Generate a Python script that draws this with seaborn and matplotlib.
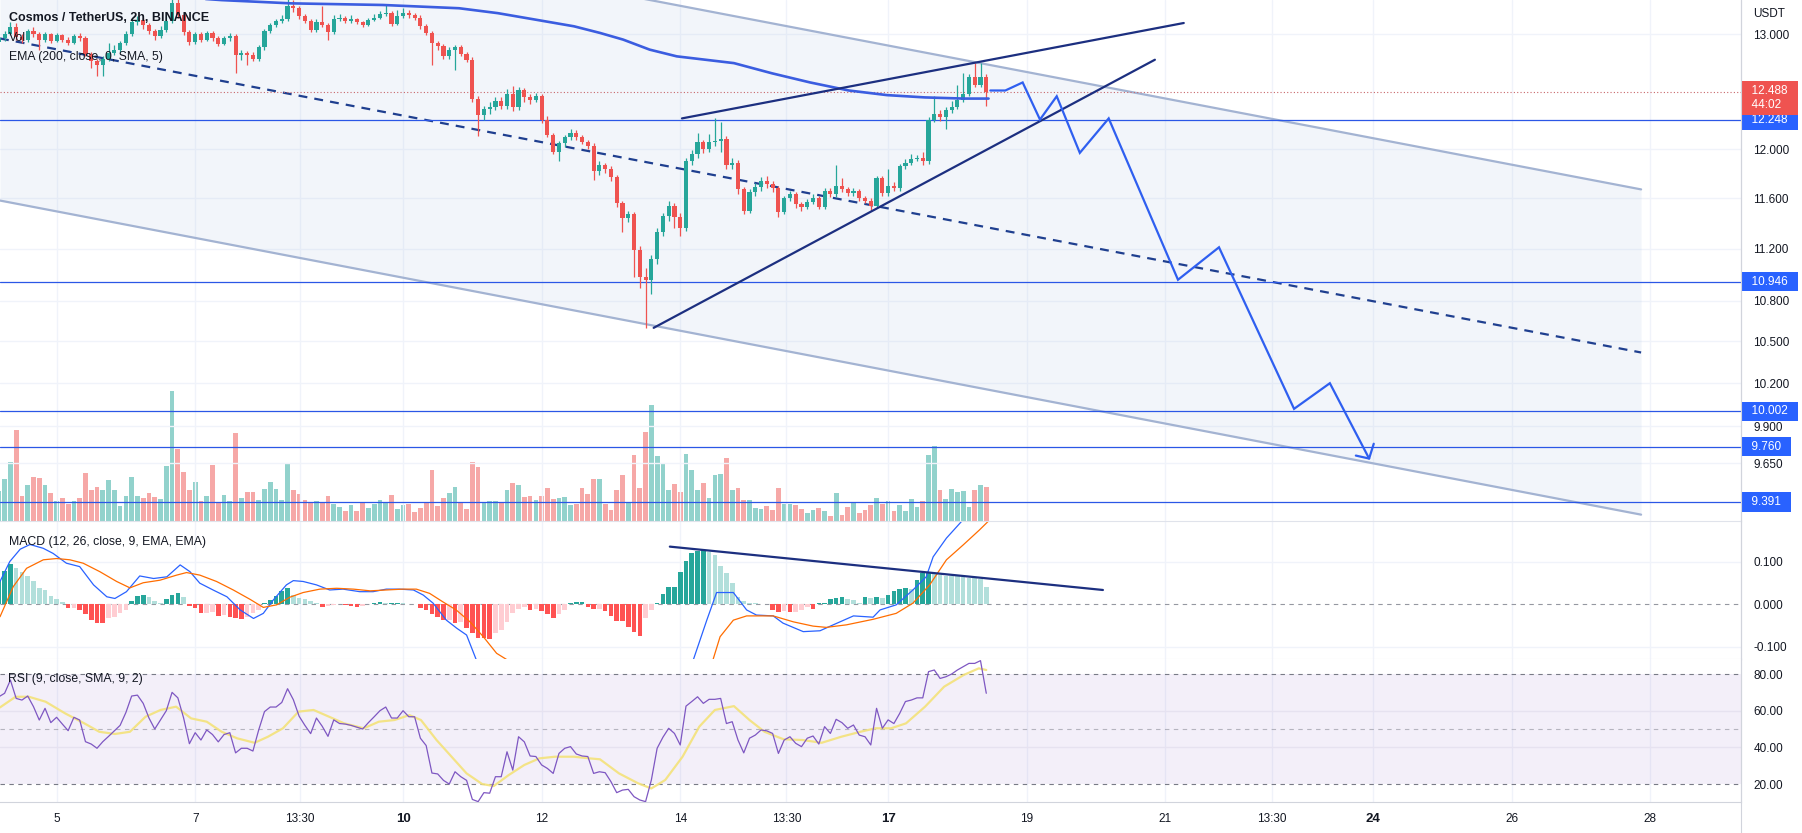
import numpy as np
import matplotlib
matplotlib.use("Agg")
import matplotlib.pyplot as plt
from matplotlib.ticker import NullLocator, NullFormatter
import seaborn as sns

sns.set_style("white")
plt.rcParams['font.family'] = ['Liberation Sans', 'DejaVu Sans']

# ---------------- data (2h bars, index 0 = 4th 04:00) ----------------
first_open = 12.93
closes = [12.96, 13.00, 13.06, 12.97, 12.95, 13.03, 13.00, 12.95, 13.00, 12.94,
          12.99, 12.95, 12.92, 12.98, 12.96, 12.82, 12.76, 12.72, 12.78, 12.83,
          12.86, 12.92, 13.00, 13.11, 13.13, 13.08, 13.03, 12.98, 13.04, 13.12,
          13.28, 13.17, 13.02, 12.93, 13.00, 12.95, 13.01, 12.96, 12.91, 12.96,
          12.98, 12.81, 12.83, 12.81, 12.78, 12.88, 13.03, 13.08, 13.12, 13.14,
          13.26, 13.24, 13.16, 13.12, 13.04, 13.11, 13.08, 13.02, 13.14, 13.15,
          13.12, 13.14, 13.11, 13.08, 13.13, 13.15, 13.18, 13.19, 13.09, 13.16,
          13.19, 13.17, 13.15, 13.07, 13.01, 12.92, 12.89, 12.80, 12.86, 12.88,
          12.82, 12.77, 12.43, 12.29, 12.34, 12.36, 12.41, 12.37, 12.47, 12.36,
          12.50, 12.44, 12.42, 12.45, 12.25, 12.12, 11.98, 12.05, 12.10, 12.14,
          12.10, 12.06, 12.03, 11.82, 11.87, 11.84, 11.77, 11.56, 11.44, 11.47,
          11.19, 10.98, 10.96, 11.12, 11.33, 11.46, 11.54, 11.45, 11.36, 11.90,
          11.96, 12.06, 12.00, 12.06, 12.07, 12.09, 11.87, 11.89, 11.67, 11.50,
          11.65, 11.69, 11.74, 11.71, 11.68, 11.49, 11.60, 11.63, 11.55, 11.53,
          11.57, 11.60, 11.53, 11.66, 11.63, 11.70, 11.67, 11.64, 11.66, 11.60,
          11.58, 11.54, 11.76, 11.64, 11.70, 11.68, 11.86, 11.89, 11.92, 11.93,
          11.90, 12.25, 12.30, 12.27, 12.33, 12.36, 12.42, 12.47, 12.62, 12.55,
          12.62, 12.488]
highs = [12.98, 13.03, 13.11, 13.10, 13.00, 13.05, 13.06, 13.02, 13.02, 13.01,
         13.01, 13.00, 12.97, 13.00, 13.01, 12.98, 12.84, 12.78, 12.80, 12.92,
         12.90, 12.94, 13.03, 13.14, 13.16, 13.15, 13.10, 13.05, 13.07, 13.16,
         13.40, 13.32, 13.19, 13.04, 13.02, 13.02, 13.03, 13.03, 12.98, 12.98,
         13.01, 13.00, 12.86, 12.85, 12.84, 12.90, 13.05, 13.10, 13.14, 13.17,
         13.33, 13.31, 13.26, 13.18, 13.14, 13.14, 13.26, 13.10, 13.17, 13.18,
         13.16, 13.17, 13.15, 13.12, 13.15, 13.18, 13.21, 13.27, 13.21, 13.22,
         13.24, 13.22, 13.19, 13.17, 13.09, 13.03, 12.94, 12.91, 12.88, 12.90,
         12.90, 12.84, 12.79, 12.45, 12.37, 12.40, 12.44, 12.44, 12.51, 12.54,
         12.53, 12.52, 12.47, 12.48, 12.47, 12.28, 12.14, 12.07, 12.12, 12.17,
         12.16, 12.12, 12.08, 12.05, 11.90, 11.89, 11.86, 11.79, 11.58, 11.50,
         11.49, 11.22, 11.05, 11.15, 11.36, 11.48, 11.58, 11.56, 11.48, 11.93,
         11.99, 12.14, 12.08, 12.13, 12.26, 12.23, 12.11, 11.93, 11.91, 11.69,
         11.67, 11.72, 11.77, 11.78, 11.74, 11.70, 11.62, 11.66, 11.65, 11.57,
         11.59, 11.63, 11.62, 11.68, 11.68, 11.87, 11.76, 11.69, 11.68, 11.67,
         11.62, 11.60, 11.78, 11.78, 11.84, 11.73, 11.88, 11.92, 11.96, 11.95,
         11.98, 12.27, 12.45, 12.33, 12.36, 12.41, 12.55, 12.65, 12.64, 12.74,
         12.74, 12.64]
lows = [12.90, 12.94, 12.99, 12.95, 12.92, 12.93, 12.97, 12.86, 12.93, 12.92,
        12.93, 12.93, 12.90, 12.91, 12.94, 12.80, 12.70, 12.63, 12.63, 12.76,
        12.81, 12.84, 12.90, 12.98, 13.08, 13.05, 13.00, 12.95, 12.96, 13.02,
        13.10, 13.15, 12.99, 12.90, 12.91, 12.93, 12.94, 12.94, 12.89, 12.90,
        12.94, 12.65, 12.77, 12.72, 12.76, 12.76, 12.86, 13.01, 13.06, 13.10,
        13.12, 13.20, 13.14, 13.10, 13.02, 13.02, 13.06, 12.95, 13.00, 13.12,
        13.10, 13.10, 13.09, 13.06, 13.07, 13.12, 13.14, 13.16, 13.07, 13.08,
        13.15, 13.15, 13.13, 13.05, 12.99, 12.72, 12.86, 12.78, 12.78, 12.68,
        12.80, 12.75, 12.40, 12.11, 12.25, 12.30, 12.33, 12.34, 12.34, 12.32,
        12.33, 12.40, 12.38, 12.40, 12.22, 12.10, 11.96, 11.90, 12.02, 12.08,
        12.08, 12.04, 12.00, 11.75, 11.79, 11.80, 11.74, 11.53, 11.33, 11.41,
        10.98, 10.90, 10.60, 10.85, 11.08, 11.30, 11.42, 11.36, 11.30, 11.34,
        11.87, 11.93, 11.97, 11.98, 12.03, 11.98, 11.84, 11.84, 11.63, 11.47,
        11.48, 11.62, 11.66, 11.68, 11.65, 11.45, 11.47, 11.58, 11.52, 11.50,
        11.51, 11.55, 11.51, 11.51, 11.61, 11.61, 11.65, 11.62, 11.62, 11.58,
        11.56, 11.50, 11.52, 11.62, 11.62, 11.66, 11.66, 11.84, 11.87, 11.90,
        11.87, 11.88, 12.23, 12.24, 12.17, 12.31, 12.34, 12.40, 12.45, 12.53,
        12.53, 12.37]
volumes = [30, 42, 59, 91, 25, 36, 44, 43, 36, 28, 20, 23, 17, 20, 23, 48, 31, 34, 31, 41,
           31, 15, 25, 44, 25, 23, 28, 24, 22, 55, 130, 72, 49, 31, 39, 20, 25, 56, 19, 26,
           20, 88, 23, 29, 29, 21, 32, 39, 32, 21, 57, 31, 27, 21, 18, 20, 19, 25, 17, 14,
           10, 16, 10, 18, 13, 17, 21, 19, 26, 12, 16, 17, 9, 13, 19, 51, 15, 23, 28, 34,
           18, 12, 59, 54, 19, 20, 20, 18, 31, 38, 36, 24, 25, 21, 25, 33, 22, 23, 24, 16,
           17, 33, 27, 42, 42, 17, 11, 31, 46, 19, 66, 33, 89, 116, 65, 58, 31, 37, 29, 67,
           51, 31, 38, 23, 46, 47, 63, 31, 33, 21, 21, 13, 12, 15, 11, 33, 17, 17, 16, 12,
           8, 11, 13, 10, 5, 28, 6, 14, 19, 8, 11, 16, 23, 17, 20, 10, 16, 10, 22, 14,
           20, 66, 75, 31, 22, 32, 29, 30, 14, 31, 36, 34]
macd_hist = [0.057, 0.078, 0.093, 0.085, 0.075, 0.067, 0.053, 0.038, 0.032, 0.020,
             0.012, 0.004, -0.010, -0.009, -0.014, -0.024, -0.038, -0.044, -0.045, -0.034,
             -0.030, -0.022, -0.013, 0.008, 0.019, 0.021, 0.016, 0.006, 0.003, 0.011,
             0.021, 0.027, 0.016, -0.005, -0.010, -0.022, -0.020, -0.018, -0.028, -0.027,
             -0.030, -0.034, -0.036, -0.031, -0.022, -0.013, 0.003, 0.009, 0.019, 0.031,
             0.037, 0.021, 0.013, 0.011, 0.008, 0.002, -0.006, -0.005, -0.002, -0.001,
             -0.003, -0.005, -0.006, -0.004, -0.001, 0.003, 0.004, 0.002, 0.002, 0.003,
             0.002, 0.001, 0.000, -0.009, -0.013, -0.024, -0.030, -0.038, -0.037, -0.045,
             -0.042, -0.057, -0.069, -0.079, -0.081, -0.082, -0.069, -0.060, -0.042, -0.022,
             -0.011, -0.007, -0.013, -0.012, -0.016, -0.024, -0.032, -0.024, -0.013, 0.003,
             0.004, 0.005, -0.008, -0.012, -0.012, -0.016, -0.028, -0.040, -0.041, -0.053,
             -0.067, -0.075, -0.034, -0.014, 0.002, 0.024, 0.039, 0.040, 0.075, 0.102,
             0.121, 0.125, 0.126, 0.123, 0.115, 0.090, 0.074, 0.049, 0.016, 0.008,
             0.003, 0.002, 0.001, 0.000, -0.014, -0.018, -0.016, -0.018, -0.018, -0.014,
             -0.008, -0.012, 0.002, 0.002, 0.011, 0.013, 0.016, 0.011, 0.010, 0.003,
             0.016, 0.013, 0.016, 0.013, 0.021, 0.031, 0.035, 0.037, 0.036, 0.056,
             0.072, 0.074, 0.071, 0.068, 0.067, 0.066, 0.065, 0.063, 0.062, 0.061,
             0.058, 0.040]
macd_x = [0.2, 1.9, 3.7, 5.4, 7.7, 9.4, 11.7, 14.0, 16.4, 18.7, 20.1, 22.1, 24.4, 26.8,
          29.1, 31.4, 33.1, 34.8, 37.1, 39.5, 41.8, 44.1, 45.8, 47.5, 49.8, 51.0, 52.7,
          55.0, 57.3, 59.6, 62.5, 64.8, 67.1, 69.4, 71.8, 73.5, 75.2, 77.5, 79.3, 81.0,
          82.7, 86, 95, 105, 112, 117, 120.3, 122.6, 124.3, 127.2, 129.5, 131.2, 134.1,
          135.8, 139.3, 142.2, 144.5, 148.0, 151.4, 152.6, 155.4, 158.3, 160.6, 161.8,
          164.1, 166.7, 171]
macd_line = [0.053, 0.100, 0.129, 0.140, 0.131, 0.119, 0.096, 0.088, 0.045, 0.017, 0.013,
             0.029, 0.066, 0.060, 0.064, 0.092, 0.076, 0.049, 0.033, 0.017, -0.014, -0.034,
             -0.022, 0.009, 0.045, 0.055, 0.053, 0.045, 0.033, 0.035, 0.029, 0.029, 0.035,
             0.035, 0.033, 0.021, 0.002, -0.038, -0.057, -0.073, -0.132, -0.21, -0.26,
             -0.29, -0.34, -0.24, -0.13, -0.038, 0.027, 0.027, -0.014, -0.026, -0.028,
             -0.045, -0.065, -0.063, -0.049, -0.028, -0.031, -0.014, -0.002, 0.033, 0.064,
             0.111, 0.155, 0.194, 0.24]
signal_x = [0.2, 2.5, 4.8, 7.7, 10.0, 12.3, 14.6, 17.5, 20.4, 22.7, 25.0, 27.9, 30.8, 32.5,
            34.8, 37.7, 40.6, 43.5, 45.8, 48.1, 50.4, 52.7, 55.6, 58.5, 61.4, 64.3, 67.1,
            70.0, 72.3, 74.6, 76.9, 79.2, 81.6, 83.9, 86.2, 95, 105, 115, 121, 123.7,
            124.9, 127.2, 129.5, 134.1, 137.6, 141.0, 143.3, 146.8, 151.4, 155.4, 158.3,
            161.2, 164.1, 167.0, 169.8, 171.3]
signal_line = [-0.030, 0.041, 0.084, 0.104, 0.107, 0.104, 0.096, 0.076, 0.053, 0.038,
               0.050, 0.056, 0.068, 0.074, 0.068, 0.053, 0.033, 0.011, -0.008, -0.002,
               0.016, 0.027, 0.035, 0.037, 0.035, 0.031, 0.033, 0.035, 0.035, 0.025,
               0.005, -0.014, -0.042, -0.077, -0.116, -0.19, -0.24, -0.26, -0.2, -0.13,
               -0.077, -0.038, -0.028, -0.028, -0.042, -0.052, -0.055, -0.049, -0.036,
               -0.022, 0.002, 0.045, 0.104, 0.139, 0.174, 0.194]
rsi = [67.6, 69.5, 76.7, 66.7, 65.8, 68.0, 62.2, 54.9, 61.3, 53.5,
       56.4, 52.7, 49.1, 56.4, 54.9, 43.1, 41.8, 39.5, 43.1, 46.0,
       49.0, 52.0, 59.0, 68.0, 68.5, 64.0, 56.0, 50.0, 55.0, 60.0,
       70.0, 67.0, 56.0, 42.0, 48.0, 44.0, 49.5, 47.0, 43.0, 47.0,
       48.0, 37.0, 39.5, 39.5, 38.0, 49.5, 59.5, 62.0, 62.0, 64.5,
       72.0, 66.0, 57.0, 52.0, 47.5, 56.0, 51.5, 46.0, 55.0, 53.0,
       52.7, 52.0, 51.0, 50.0, 53.5, 56.7, 60.0, 62.0, 56.0, 56.0,
       60.0, 56.7, 56.7, 45.0, 41.0, 26.0, 25.5, 22.0, 20.0, 26.7,
       24.0, 22.0, 11.6, 10.4, 15.3, 15.0, 24.0, 24.0, 37.6, 27.6,
       45.8, 43.0, 35.3, 35.0, 30.4, 28.5, 25.8, 36.7, 39.5, 40.4,
       36.4, 35.3, 35.0, 25.8, 26.7, 26.2, 21.3, 15.3, 16.7, 17.1,
       13.1, 11.3, 10.4, 22.2, 39.5, 45.5, 50.4, 47.6, 41.3, 62.5,
       65.0, 67.6, 64.0, 66.2, 66.2, 66.7, 53.0, 54.0, 44.0, 37.0,
       45.0, 46.7, 49.5, 49.0, 47.6, 36.7, 44.0, 45.8, 42.2, 40.4,
       45.0, 46.2, 41.8, 51.3, 47.6, 55.3, 53.5, 50.4, 52.2, 46.7,
       45.8, 41.3, 61.3, 50.4, 55.0, 53.0, 58.5, 65.0, 65.8, 67.0,
       67.0, 81.3, 82.2, 77.6, 78.5, 80.0, 82.2, 84.0, 85.8, 85.8,
       87.3, 69.5]
rsi_ma_x = [0.2, 2.9, 5.2, 8.1, 11.5, 14.8, 17.4, 20.1, 22.7, 25.4, 28.0, 30.7, 33.3, 36.0,
            38.6, 41.3, 44.3, 46.6, 49.2, 51.9, 54.5, 57.2, 59.8, 63.2, 65.8, 68.5, 71.1,
            73.1, 75.8, 78.4, 81.0, 83.7, 85.7, 88.3, 91.0, 93.6, 96.3, 99.6, 102.3, 104.1,
            107.4, 110.7, 113.0, 115.4, 118.4, 121.3, 124.0, 127.3, 130.0, 132.6, 135.9,
            139.2, 142.5, 145.9, 149.2, 151.8, 154.5, 157.1, 160.4, 163.7, 167.1, 169.7, 171.0]
rsi_ma = [61.8, 67.6, 67.6, 64.9, 58.5, 53.1, 48.5, 47.3, 48.5, 56.7, 60.4, 62.2, 55.8, 54.0,
          48.5, 44.9, 42.5, 45.8, 50.4, 59.5, 60.4, 56.7, 53.1, 50.4, 54.0, 54.9, 57.6,
          54.9, 44.0, 34.9, 25.8, 20.0, 18.9, 24.9, 30.4, 34.0, 34.9, 34.9, 34.0, 33.5,
          25.8, 20.4, 17.6, 22.2, 34.9, 51.3, 60.4, 62.5, 54.9, 48.5, 44.4, 44.0, 42.5,
          45.8, 48.5, 50.4, 50.4, 53.1, 62.2, 73.1, 79.5, 83.1, 82.2]
ema_x = [25, 38.6, 50.6, 66.5, 79.7, 86.4, 93.0, 99.6, 104.1, 108.1, 112.7, 117.4, 120.7,
         127.3, 133.9, 140.5, 147.2, 153.8, 160.4, 167.1, 171.4]
ema_y = [13.36, 13.31, 13.28, 13.265, 13.235, 13.19, 13.13, 13.07, 13.01, 12.95, 12.86,
         12.80, 12.78, 12.74, 12.65, 12.57, 12.50, 12.46, 12.44, 12.43, 12.43]

levels = [12.248, 10.946, 10.002, 9.760, 9.391]
last_price = 12.488
countdown = "44:02"

channel_x = [0.2, 284.4]
channel_top = [14.51, 11.67]
channel_mid = [12.96, 10.42]
channel_bottom = [11.58, 9.31]
wedge_up_x, wedge_up_y = [118.3, 205.2], [12.26, 13.10]
wedge_lo_x, wedge_lo_y = [113.4, 200.2], [10.60, 12.77]
proj_x = [171.7, 174.3, 177.3, 180.3, 183.2, 187.2, 192.2, 204.2, 211.3, 224.3, 230.5, 237.3]
proj_y = [12.50, 12.50, 12.57, 12.25, 12.45, 11.97, 12.26, 10.96, 11.21, 10.02, 10.20, 9.68]
arrow_x, arrow_y = [235.0, 237.3, 238.1], [9.70, 9.68, 9.78]
div_x, div_y = [116.2, 191.2], [0.135, 0.033]

tick_pos = [10, 34, 52.2, 70, 94, 118, 136.4, 154, 178, 202, 220.5, 238, 262, 286]
tick_labels = ["5", "7", "13:30", "10", "12", "14", "13:30", "17", "19", "21",
               "13:30", "24", "26", "28"]
bold_labels = {"10", "17", "24"}
price_ticks = [13.0, 12.0, 11.6, 11.2, 10.8, 10.5, 10.2, 9.9, 9.65]
macd_ticks = [0.1, 0.0, -0.1]
rsi_ticks = [80, 60, 40, 20]

# ---------------- colours ----------------
GREEN, RED = '#26a69a', '#ef5350'
TXT = '#131722'
GRID = '#f0f3fa'
LVL = '#2b57e6'

# ---------------- figure ----------------
W, H, PR = 1802, 833, 1741
fig = plt.figure(figsize=(W / 100, H / 100), dpi=100)
fig.patch.set_facecolor('white')


def rect(y0, y1):
    return [0, 1 - y1 / H, PR / W, (y1 - y0) / H]


ax_vol = fig.add_axes(rect(0, 521), zorder=0)
ax = fig.add_axes(rect(0, 521), zorder=1)
ax.set_facecolor('none')
ax_macd = fig.add_axes(rect(521, 659))
ax_rsi = fig.add_axes(rect(659, 802))

xlim = (0.2, 301.7)
idx = np.arange(len(closes))
c = np.array(closes)
o = np.r_[first_open, c[:-1]]
up = c >= o
candle_col = np.where(up, GREEN, RED)

# volume (underneath)
ax_vol.bar(idx, volumes, width=0.82, color=candle_col, alpha=0.5, lw=0)
ax_vol.set_xlim(*xlim)
ax_vol.set_ylim(0, max(volumes) * 4.0)
ax_vol.axis('off')

# main price panel
ax.set_yscale('log')
for t in tick_pos:
    ax.axvline(t, color=GRID, lw=1, zorder=0)
for p in price_ticks:
    ax.axhline(p, color=GRID, lw=1, zorder=0)
ax.fill_between(channel_x, channel_bottom, channel_top, color='#9db8de', alpha=0.13, lw=0, zorder=0.5)
ax.plot(channel_x, channel_top, color='#a3b3d2', lw=1.6, zorder=2)
ax.plot(channel_x, channel_bottom, color='#a3b3d2', lw=1.6, zorder=2)
ax.plot(channel_x, channel_mid, color='#1f3f8f', lw=1.6, ls=(0, (4, 3.2)), zorder=2)
for lv in levels:
    ax.axhline(lv, color=LVL, lw=0.9, zorder=2)
ax.axhline(last_price, color='#c8666a', lw=0.8, ls=(0, (1, 2)), zorder=2)

ax.vlines(idx, lows, highs, colors=candle_col, lw=0.9, zorder=3)
ax.bar(idx, np.maximum(np.abs(c - o), 0.004), bottom=np.minimum(o, c), width=0.72,
       color=candle_col, lw=0, zorder=4)
sns.lineplot(x=ema_x, y=ema_y, ax=ax, color='#3b5de0', lw=1.9, zorder=5)
ax.plot(wedge_up_x, wedge_up_y, color='#1c2f80', lw=1.6, zorder=6)
ax.plot(wedge_lo_x, wedge_lo_y, color='#1c2f80', lw=1.6, zorder=6)
ax.plot(proj_x, proj_y, color='#2f5ff0', lw=1.6, zorder=6, solid_joinstyle='miter')
ax.plot(arrow_x, arrow_y, color='#2f5ff0', lw=1.6, zorder=6)

ax.set_xlim(*xlim)
ax.set_ylim(9.269, 13.311)
ax.yaxis.set_minor_locator(NullLocator())
ax.yaxis.set_minor_formatter(NullFormatter())
ax.set_yticks(price_ticks)
ax.set_yticklabels([f"{p:.3f}" for p in price_ticks])


def style_panel(a, bottom_color='#e0e3eb'):
    for s in ['top', 'left']:
        a.spines[s].set_visible(False)
    a.spines['right'].set_color('#d1d4dc')
    a.spines['bottom'].set_color(bottom_color)
    a.yaxis.tick_right()
    a.tick_params(axis='y', length=0, pad=9, labelsize=8.5, labelcolor=TXT,
                  left=False, labelleft=False, right=True, labelright=True)
    a.tick_params(axis='x', length=0)
    a.set_xlabel('')
    a.set_ylabel('')


style_panel(ax)
ax.set_xticks(tick_pos)
ax.set_xticklabels([])

# MACD panel
for t in tick_pos:
    ax_macd.axvline(t, color=GRID, lw=1, zorder=0)
for v in [0.1, -0.1]:
    ax_macd.axhline(v, color=GRID, lw=1, zorder=0)
ax_macd.axhline(0, color='#9598a1', lw=0.8, ls=(0, (4, 4)), zorder=1)
hist = np.array(macd_hist)
prev = np.r_[hist[0], hist[:-1]]
hcol = np.where(hist >= 0, np.where(hist >= prev, '#26a69a', '#b2dfdb'),
                np.where(hist < prev, '#ff5252', '#ffcdd2'))
ax_macd.bar(idx, hist, width=0.8, color=hcol, lw=0, zorder=2)
sns.lineplot(x=macd_x, y=macd_line, ax=ax_macd, color='#2962ff', lw=0.9, zorder=3)
sns.lineplot(x=signal_x, y=signal_line, ax=ax_macd, color='#ff6d00', lw=0.9, zorder=3)
ax_macd.plot(div_x, div_y, color='#1c2f80', lw=1.6, zorder=4)
ax_macd.set_xlim(*xlim)
ax_macd.set_ylim(-0.1294, 0.1953)
ax_macd.set_yticks(macd_ticks)
ax_macd.set_yticklabels(["0.100", "0.000", "-0.100"])
style_panel(ax_macd)
ax_macd.set_xticks(tick_pos)
ax_macd.set_xticklabels([])

# RSI panel
for t in tick_pos:
    ax_rsi.axvline(t, color=GRID, lw=1, zorder=0)
for v in [60, 40]:
    ax_rsi.axhline(v, color='#e6e2f0', lw=1, zorder=0.5)
ax_rsi.axhspan(20, 80, color='#7e57c2', alpha=0.09, lw=0, zorder=0.2)
for v, al in [(80, 1.0), (50, 0.5), (20, 1.0)]:
    ax_rsi.axhline(v, color='#787b86', lw=0.8, ls=(0, (4, 4)), alpha=al, zorder=1)
sns.lineplot(x=rsi_ma_x, y=rsi_ma, ax=ax_rsi, color='#f3e27a', lw=1.6, alpha=0.9, zorder=2)
sns.lineplot(x=idx, y=rsi, ax=ax_rsi, color='#7e57c2', lw=0.9, zorder=3)
ax_rsi.set_xlim(*xlim)
ax_rsi.set_ylim(10.2, 88.2)
ax_rsi.set_yticks(rsi_ticks)
ax_rsi.set_yticklabels([f"{v:.2f}" for v in rsi_ticks])
style_panel(ax_rsi, bottom_color='#d1d4dc')
ax_rsi.set_xticks(tick_pos)
ax_rsi.set_xticklabels(tick_labels)
ax_rsi.tick_params(axis='x', pad=8, labelsize=8.5, labelcolor=TXT)
for lbl in ax_rsi.get_xticklabels():
    if lbl.get_text() in bold_labels:
        lbl.set_fontweight('bold')
        lbl.set_fontsize(9.5)

# right-hand value boxes (start at the scale border)
for lv in levels:
    ax.annotate(f"  {lv:.3f}  ", xy=(1, lv), xycoords=('axes fraction', 'data'),
                xytext=(4, 0), textcoords='offset pixels', ha='left', va='center',
                fontsize=8.5, color='white', annotation_clip=False, zorder=10,
                bbox=dict(boxstyle='square,pad=0.32', fc='#2962ff', ec='none'))
ax.annotate(f"  {last_price:.3f}  \n  {countdown}", xy=(1, last_price),
            xycoords=('axes fraction', 'data'), xytext=(4, 7), textcoords='offset pixels',
            ha='left', va='top', fontsize=8.5, color='white', linespacing=1.25,
            annotation_clip=False, zorder=10,
            bbox=dict(boxstyle='square,pad=0.32', fc='#ef5350', ec='none'))

fig.text(1753 / W, 1 - 14 / H, "USDT", fontsize=8.5, color=TXT, va='center')
fig.text(9 / W, 1 - 18 / H, "Cosmos / TetherUS, 2h, BINANCE", fontsize=9, color=TXT,
         fontweight='bold', va='center')
fig.text(9 / W, 1 - 38 / H, "Vol", fontsize=8.8, color=TXT, va='center')
fig.text(9 / W, 1 - 57 / H, "EMA (200, close, 0, SMA, 5)", fontsize=8.8, color=TXT, va='center')
fig.text(9 / W, 1 - 542 / H, "MACD (12, 26, close, 9, EMA, EMA)", fontsize=8.8, color=TXT, va='center')
fig.text(8 / W, 1 - 679 / H, "RSI (9, close, SMA, 9, 2)", fontsize=8.8, color=TXT, va='center')
fig.add_artist(plt.Line2D([PR / W, PR / W], [0, 1], color='#d1d4dc', lw=0.8))

fig.savefig("out.png", dpi=100, facecolor='white')
